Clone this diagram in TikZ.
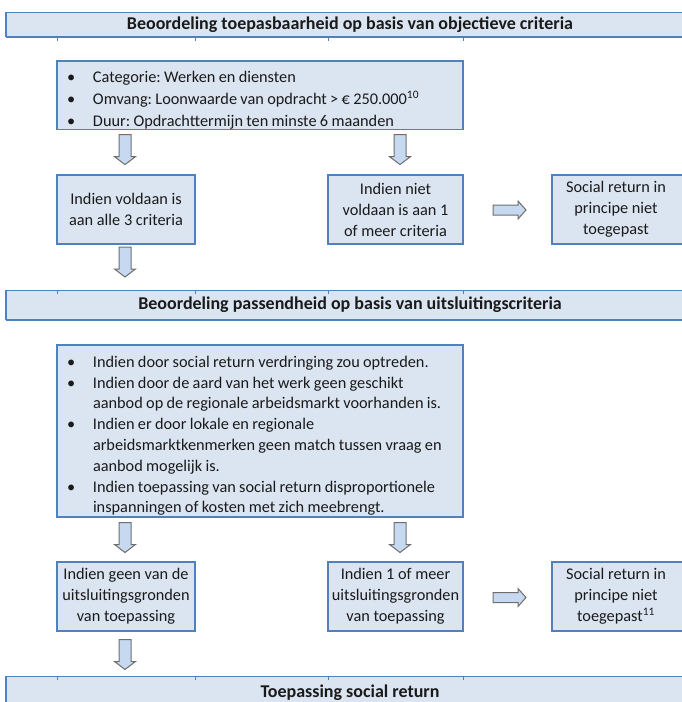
\documentclass[tikz,border=0pt]{standalone}
\usepackage{fontspec}
\setmainfont{Carlito}
\usetikzlibrary{calc}
\frenchspacing

\definecolor{panel}{HTML}{DBE5F1}
\definecolor{frame}{HTML}{4F81BD}
\definecolor{arrowfill}{HTML}{C6D9F1}
\definecolor{arrowline}{HTML}{6E6E6E}
\definecolor{ink}{HTML}{1A1A1A}

% one bullet item with hanging indent
\newcommand\bitem[1]{\par\noindent\hangindent=28pt\hangafter=1\hspace*{2pt}\makebox[26pt][l]{\textbullet}#1}

\begin{document}
\begin{tikzpicture}[x=1pt,y=-1pt,
  every node/.style={inner sep=0pt, outer sep=0pt, text=ink},
  band/.style={fill=panel, draw=frame, line width=1pt, anchor=north west,
    minimum width=688pt, font=\fontsize{18}{20}\selectfont\bfseries},
  card/.style={fill=panel, draw=frame, line width=1.2pt, anchor=north west,
    align=center, minimum height=69pt, font=\fontsize{16.3}{21}\selectfont},
  listcard/.style={fill=panel, draw=frame, line width=1.2pt, anchor=north west,
    inner xsep=8pt, text width=390pt, align=left},
  arrowshape/.style={fill=arrowfill, draw=arrowline, line width=1pt, line join=miter},
  downarr/.pic={\draw[arrowshape] (-6,-15) -- (6,-15) -- (6,7) -- (10.5,7) -- (0,15)
      -- (-10.5,7) -- (-6,7) -- cycle;},
  rightarr/.pic={\draw[arrowshape] (-16.5,-5) -- (8.5,-5) -- (8.5,-9) -- (16.5,0)
      -- (8.5,9) -- (8.5,5) -- (-16.5,5) -- cycle;},
  bandedge/.style={draw=frame, line width=2.4pt},
  gridtick/.style={draw=frame, line width=0.7pt}
]
\useasboundingbox (0,0) rectangle (682,702);
\clip (0,0) rectangle (682,702);

% ---------- section bands ----------
\node[band, minimum height=25pt] (h1) at (6,12)
  {Beoordeling toepasbaarheid op basis van objectieve criteria};
\node[band, minimum height=30pt] (h2) at (6,290)
  {Beoordeling passendheid op basis van uitsluitingscriteria};
\node[band, minimum height=34pt] (h3) at (6,676)
  {\raisebox{2pt}{Toepassing social return}};

\foreach \h in {h1,h2,h3}{
  \draw[bandedge] (\h.north west) -- (\h.south west);
  \draw[bandedge, line width=2pt] (\h.south west) -- (\h.south east);
}

% ---------- criteria list ----------
\node[listcard, minimum height=67pt] (crit) at (57,61)
  {\fontsize{16.3}{21.8}\selectfont
   \bitem{Categorie: Werken en diensten}
   \bitem{Omvang: Loonwaarde van opdracht > € 250.000\textsuperscript{10}}
   \bitem{Duur: Opdrachttermijn ten minste 6 maanden}\par};

% ---------- first decision row ----------
\node[card, minimum width=138pt] (yes1) at (57,175)
  {Indien voldaan is\\aan alle 3 criteria};
\node[card, minimum width=135pt] (no1) at (328,175)
  {Indien niet\\voldaan is aan 1\\of meer criteria};
\node[card, minimum width=148pt] (out1) at (552,175)
  {\hspace*{-10pt}\begin{tabular}{@{}c@{}}Social return in\\principe niet\\toegepast\end{tabular}\hspace*{10pt}};

% ---------- exclusion list ----------
\node[listcard, minimum height=172pt] (excl) at (57,345)
  {\fontsize{16.3}{20.8}\selectfont
   \bitem{Indien door social return verdringing zou optreden.}
   \bitem{Indien door de aard van het werk geen geschikt\newline
          aanbod op de regionale arbeidsmarkt voorhanden is.}
   \bitem{Indien er door lokale en regionale\newline
          arbeidsmarktkenmerken geen match tussen vraag en\newline
          aanbod mogelijk is.}
   \bitem{Indien toepassing van social return disproportionele\newline
          inspanningen of kosten met zich meebrengt.}\par};

% ---------- second decision row ----------
\node[card, minimum width=138pt] (yes2) at (57,562)
  {Indien geen van de\\uitsluitingsgronden\\van toepassing};
\node[card, minimum width=135pt] (no2) at (328,562)
  {Indien 1 of meer\\uitsluitingsgronden\\van toepassing};
\node[card, minimum width=148pt] (out2) at (552,562)
  {\hspace*{-10pt}\begin{tabular}{@{}c@{}}Social return in\\principe niet\\toegepast\textsuperscript{11}\end{tabular}\hspace*{10pt}};

% ---------- block arrows ----------
\pic at ($(yes1.north)!0.5!(yes1.north |- crit.south)+(-1,-2.5)$) {downarr};
\pic at ($(no1.north)!0.5!(no1.north |- crit.south)+(4.5,-2.5)$) {downarr};
\pic at ($(no1.east)!0.5!(out1.west)+(2,0.5)$) {rightarr};
\pic at ($(yes1.south)!0.5!(yes1.south |- h2.north)+(-1,-5)$) {downarr};

\pic at ($(yes2.north)!0.5!(yes2.north |- excl.south)+(-1,-2)$) {downarr};
\pic at ($(no2.north)!0.5!(no2.north |- excl.south)+(4.5,-2)$) {downarr};
\pic at ($(no2.east)!0.5!(out2.west)+(2,1)$) {rightarr};
\pic at ($(yes2.south)!0.5!(yes2.south |- h3.north)+(-1,1)$) {downarr};

% ---------- table grid stubs along the bands ----------
\foreach \x in {57,195,328,463}{
  \draw[gridtick] (\x,37) -- (\x,41);
  \draw[gridtick] (\x,291) -- (\x,294);
  \draw[gridtick] (\x,677) -- (\x,680);
}
\end{tikzpicture}
\end{document}
